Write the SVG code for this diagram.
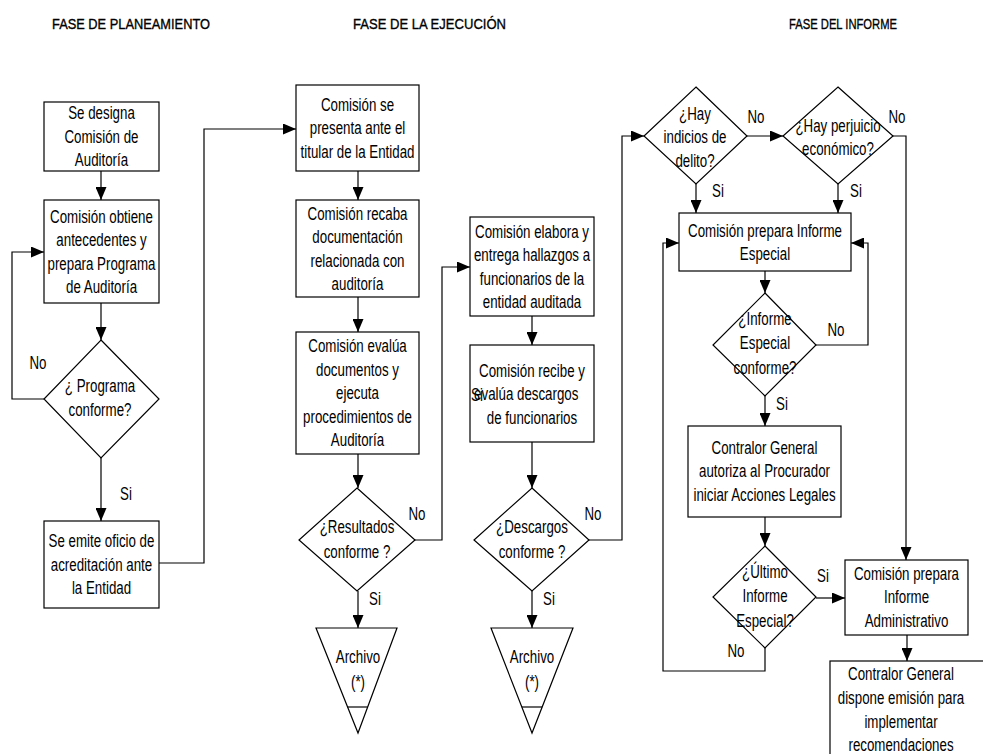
<svg xmlns="http://www.w3.org/2000/svg" width="983" height="754" viewBox="0 0 983 754">
<style>
.bg{fill:#fff}
.n{fill:#fff;stroke:#000;stroke-width:1.2}
.c{fill:none;stroke:#000;stroke-width:1.2}
.t{font-family:"Liberation Sans",Arial,sans-serif;font-size:18.5px;text-anchor:middle;fill:#000}
.h{font-family:"Liberation Sans",Arial,sans-serif;font-size:15.5px;fill:#000;stroke:#000;stroke-width:0.35}
</style>
<defs>
<marker id="ah" markerUnits="userSpaceOnUse" markerWidth="13" markerHeight="11" refX="13" refY="5.5" orient="auto">
<path d="M0,0 L13,5.5 L0,11 z" fill="#000"/>
</marker>
</defs>
<rect class="bg" x="0" y="0" width="983" height="754"/>
<g id="headings">
<text class="h" x="52" y="29" textLength="158" lengthAdjust="spacingAndGlyphs">FASE DE PLANEAMIENTO</text>
<text class="h" x="353" y="29" textLength="153" lengthAdjust="spacingAndGlyphs">FASE DE LA EJECUCIÓN</text>
<text class="h" x="789" y="29" textLength="108" lengthAdjust="spacingAndGlyphs">FASE DEL INFORME</text>
</g>
<g id="connectors">
<path class="c" marker-end="url(#ah)" d="M101,171 V200"/>
<path class="c" marker-end="url(#ah)" d="M101,303 V340"/>
<path class="c" marker-end="url(#ah)" d="M44,399 H12 V252 H44"/>
<path class="c" marker-end="url(#ah)" d="M101,458 V521"/>
<path class="c" marker-end="url(#ah)" d="M159,563 H204 V129 H296"/>
<path class="c" marker-end="url(#ah)" d="M358,171 V200"/>
<path class="c" marker-end="url(#ah)" d="M358,297 V332"/>
<path class="c" marker-end="url(#ah)" d="M358,454 V488"/>
<path class="c" marker-end="url(#ah)" d="M415,540 H442 V267 H470"/>
<path class="c" marker-end="url(#ah)" d="M358,591 V628"/>
<path class="c" marker-end="url(#ah)" d="M532,316 V345"/>
<path class="c" marker-end="url(#ah)" d="M532,442 V488"/>
<path class="c" marker-end="url(#ah)" d="M589,540 H622 V136 H644"/>
<path class="c" marker-end="url(#ah)" d="M532,591 V628"/>
<path class="c" marker-end="url(#ah)" d="M747,136 H783"/>
<path class="c" marker-end="url(#ah)" d="M696,184 V213"/>
<path class="c" marker-end="url(#ah)" d="M838,184 V213"/>
<path class="c" marker-end="url(#ah)" d="M893,136 H906 V560"/>
<path class="c" marker-end="url(#ah)" d="M765,271 V293"/>
<path class="c" marker-end="url(#ah)" d="M816,345 H868 V243 H851"/>
<path class="c" marker-end="url(#ah)" d="M765,396 V426"/>
<path class="c" marker-end="url(#ah)" d="M765,517 V546"/>
<path class="c" marker-end="url(#ah)" d="M816,598 H845"/>
<path class="c" marker-end="url(#ah)" d="M765,648 V671 H663 V243 H679"/>
<path class="c" marker-end="url(#ah)" d="M907,635 V661"/>
</g>
<g id="labels">
<text class="t" transform="matrix(0.72 0 0 1 38 369)">No</text>
<text class="t" transform="matrix(0.72 0 0 1 126 500)">Si</text>
<text class="t" transform="matrix(0.72 0 0 1 417 520)">No</text>
<text class="t" transform="matrix(0.72 0 0 1 375 605)">Si</text>
<text class="t" transform="matrix(0.72 0 0 1 593 520)">No</text>
<text class="t" transform="matrix(0.72 0 0 1 549 605)">Si</text>
<text class="t" transform="matrix(0.72 0 0 1 756 123)">No</text>
<text class="t" transform="matrix(0.72 0 0 1 897 123)">No</text>
<text class="t" transform="matrix(0.72 0 0 1 718 197)">Si</text>
<text class="t" transform="matrix(0.72 0 0 1 856 197)">Si</text>
<text class="t" transform="matrix(0.72 0 0 1 836 336)">No</text>
<text class="t" transform="matrix(0.72 0 0 1 782 410)">Si</text>
<text class="t" transform="matrix(0.72 0 0 1 823 582)">Si</text>
<text class="t" transform="matrix(0.72 0 0 1 736 657)">No</text>
</g>
<g id="n1">
<rect class="n" x="44" y="102" width="115" height="69"/>
<text class="t" transform="matrix(0.72 0 0 1 101.5 0)"><tspan x="0" y="119.5">Se designa</tspan><tspan x="0" y="143">Comisión de</tspan><tspan x="0" y="166.5">Auditoría</tspan></text>
</g>
<g id="n2">
<rect class="n" x="44" y="200" width="115" height="103"/>
<text class="t" transform="matrix(0.72 0 0 1 101.5 0)"><tspan x="0" y="223">Comisión obtiene</tspan><tspan x="0" y="246.5">antecedentes y</tspan><tspan x="0" y="270">prepara Programa</tspan><tspan x="0" y="293.5">de Auditoría</tspan></text>
</g>
<g id="d1">
<polygon class="n" points="101,340 159,399 101,458 44,399"/>
<text class="t" transform="matrix(0.72 0 0 1 100 0)"><tspan x="0" y="392">¿ Programa</tspan><tspan x="0" y="416">conforme?</tspan></text>
</g>
<g id="n3">
<rect class="n" x="44" y="521" width="115" height="87"/>
<text class="t" transform="matrix(0.72 0 0 1 101.5 0)"><tspan x="0" y="547.5">Se emite oficio de</tspan><tspan x="0" y="571">acreditación ante</tspan><tspan x="0" y="594.5">la Entidad</tspan></text>
</g>
<g id="n4">
<rect class="n" x="296" y="85" width="123" height="86"/>
<text class="t" transform="matrix(0.72 0 0 1 357.5 0)"><tspan x="0" y="111">Comisión se</tspan><tspan x="0" y="134.5">presenta ante el</tspan><tspan x="0" y="158">titular de la Entidad</tspan></text>
</g>
<g id="n5">
<rect class="n" x="296" y="200" width="123" height="97"/>
<text class="t" transform="matrix(0.72 0 0 1 357.5 0)"><tspan x="0" y="220">Comisión recaba</tspan><tspan x="0" y="243.5">documentación</tspan><tspan x="0" y="267">relacionada con</tspan><tspan x="0" y="290.5">auditoría</tspan></text>
</g>
<g id="n6">
<rect class="n" x="296" y="332" width="123" height="122"/>
<text class="t" transform="matrix(0.72 0 0 1 357.5 0)"><tspan x="0" y="352.5">Comisión evalúa</tspan><tspan x="0" y="376">documentos y</tspan><tspan x="0" y="399.5">ejecuta</tspan><tspan x="0" y="423">procedimientos de</tspan><tspan x="0" y="446.5">Auditoría</tspan></text>
</g>
<g id="d2">
<polygon class="n" points="357,488 415,540 357,591 299,540"/>
<text class="t" transform="matrix(0.72 0 0 1 357 0)"><tspan x="0" y="533">¿Resultados</tspan><tspan x="0" y="558">conforme ?</tspan></text>
</g>
<g id="a1">
<polygon class="n" points="316,628 397,628 358,733"/>
<line class="c" x1="347.6" y1="707" x2="367.7" y2="707"/>
<text class="t" transform="matrix(0.72 0 0 1 358 0)"><tspan x="0" y="663">Archivo</tspan><tspan x="0" y="688">(*)</tspan></text>
</g>
<g id="n7">
<rect class="n" x="470" y="217" width="124" height="99"/>
<text class="t" transform="matrix(0.72 0 0 1 532 0)"><tspan x="0" y="238">Comisión elabora y</tspan><tspan x="0" y="261.5">entrega hallazgos a</tspan><tspan x="0" y="285">funcionarios de la</tspan><tspan x="0" y="308.5">entidad auditada</tspan></text>
</g>
<g id="n8">
<rect class="n" x="470" y="345" width="124" height="97"/>
<text class="t" transform="matrix(0.72 0 0 1 532 0)"><tspan x="0" y="377">Comisión recibe y</tspan><tspan x="-8" y="400.5">evalúa descargos</tspan><tspan x="0" y="424">de funcionarios</tspan></text>
<text class="t" transform="matrix(0.72 0 0 1 477 401)">Si</text>
</g>
<g id="d3">
<polygon class="n" points="532,488 589,540 532,591 474,540"/>
<text class="t" transform="matrix(0.72 0 0 1 532 0)"><tspan x="0" y="533">¿Descargos</tspan><tspan x="0" y="558">conforme ?</tspan></text>
</g>
<g id="a2">
<polygon class="n" points="491,628 573,628 532,733"/>
<line class="c" x1="521.8" y1="707" x2="542.2" y2="707"/>
<text class="t" transform="matrix(0.72 0 0 1 532 0)"><tspan x="0" y="663">Archivo</tspan><tspan x="0" y="688">(*)</tspan></text>
</g>
<g id="d4">
<polygon class="n" points="696,87 747,136 696,184 644,136"/>
<text class="t" transform="matrix(0.72 0 0 1 695 0)"><tspan x="0" y="120">¿Hay</tspan><tspan x="0" y="143.5">indicios de</tspan><tspan x="0" y="167">delito?</tspan></text>
</g>
<g id="d5">
<polygon class="n" points="838,87 893,136 838,184 783,136"/>
<text class="t" transform="matrix(0.72 0 0 1 838 0)"><tspan x="0" y="132">¿Hay perjuicio</tspan><tspan x="0" y="155">económico?</tspan></text>
</g>
<g id="n9">
<rect class="n" x="679" y="213" width="172" height="58"/>
<text class="t" transform="matrix(0.72 0 0 1 765 0)"><tspan x="0" y="237">Comisión prepara Informe</tspan><tspan x="0" y="260.5">Especial</tspan></text>
</g>
<g id="d6">
<polygon class="n" points="765,293 816,345 765,396 713,345"/>
<text class="t" transform="matrix(0.72 0 0 1 765 0)"><tspan x="0" y="325">¿Informe</tspan><tspan x="0" y="349.5">Especial</tspan><tspan x="0" y="374">conforme?</tspan></text>
</g>
<g id="n10">
<rect class="n" x="688" y="426" width="153" height="91"/>
<text class="t" transform="matrix(0.72 0 0 1 764.5 0)"><tspan x="0" y="454">Contralor General</tspan><tspan x="0" y="477.5">autoriza al Procurador</tspan><tspan x="0" y="501">iniciar Acciones Legales</tspan></text>
</g>
<g id="d7">
<polygon class="n" points="765,546 816,597 765,648 713,597"/>
<text class="t" transform="matrix(0.72 0 0 1 765 0)"><tspan x="0" y="578">¿Último</tspan><tspan x="0" y="602.5">Informe</tspan><tspan x="0" y="627">Especial?</tspan></text>
</g>
<g id="n11">
<rect class="n" x="845" y="560" width="123" height="75"/>
<text class="t" transform="matrix(0.72 0 0 1 906.5 0)"><tspan x="0" y="580">Comisión prepara</tspan><tspan x="0" y="603.5">Informe</tspan><tspan x="0" y="627">Administrativo</tspan></text>
</g>
<g id="n12">
<rect class="n" x="830" y="661" width="170" height="120"/>
<text class="t" transform="matrix(0.72 0 0 1 901 0)"><tspan x="0" y="680">Contralor General</tspan><tspan x="0" y="704">dispone emisión para</tspan><tspan x="0" y="728">implementar</tspan><tspan x="0" y="751">recomendaciones</tspan></text>
</g>
</svg>
